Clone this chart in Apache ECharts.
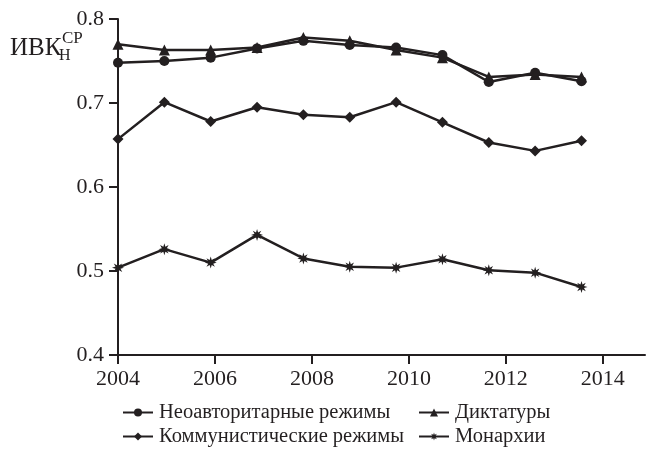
<!DOCTYPE html>
<html>
<head>
<meta charset="utf-8">
<script src="https://cdn.jsdelivr.net/npm/echarts@6/dist/echarts.min.js"></script>
<style>
html,body{margin:0;padding:0;background:#fff;}
#chart{width:646px;height:449px;}
</style>
</head>
<body>
<div id="chart"></div>
<script>
// ---- data ----
var years = [2004, 2005, 2006, 2007, 2008, 2009, 2010, 2011, 2012, 2013, 2014];
var neoauthoritarian = [0.748, 0.750, 0.754, 0.765, 0.774, 0.769, 0.766, 0.757, 0.725, 0.736, 0.726];
var dictatorships    = [0.770, 0.763, 0.763, 0.766, 0.778, 0.774, 0.763, 0.754, 0.731, 0.734, 0.731];
var communist        = [0.657, 0.701, 0.678, 0.695, 0.686, 0.683, 0.701, 0.677, 0.653, 0.643, 0.655];
var monarchies       = [0.504, 0.526, 0.510, 0.543, 0.515, 0.505, 0.504, 0.514, 0.501, 0.498, 0.481];
var xTickLabels = [2004, 2006, 2008, 2010, 2012, 2014];
var yTickLabels = [0.4, 0.5, 0.6, 0.7, 0.8];
var seriesNames = ['Неоавторитарные режимы', 'Диктатуры', 'Коммунистические режимы', 'Монархии'];

// ---- style ----
var INK = '#231f20';
var FONT = '"Liberation Serif", "Times New Roman", serif';

function starPath() {
  var pts = [];
  for (var i = 0; i < 16; i++) {
    var a = Math.PI * i / 8;
    var r = (i % 2 === 0) ? 10 : 4.5;
    pts.push((r * Math.sin(a)).toFixed(2) + ',' + (-r * Math.cos(a)).toFixed(2));
  }
  return 'path://M' + pts.join('L') + 'Z';
}
var STAR = starPath();

function pairs(vals) { return years.map(function (y, i) { return [y, vals[i]]; }); }

function lineSeries(name, vals, symbol, size) {
  return {
    name: name, type: 'line', xAxisIndex: 1, yAxisIndex: 0,
    data: pairs(vals),
    symbol: symbol, symbolSize: size, showSymbol: true,
    lineStyle: { color: INK, width: 2.5 },
    itemStyle: { color: INK, borderWidth: 0 },
    emphasis: { disabled: true },
    animation: false
  };
}

function legendAt(name, left, top) {
  return {
    data: [name], left: left, top: top, orient: 'horizontal',
    itemWidth: 30, itemHeight: 10, itemGap: 0, padding: 0,
    textStyle: { fontFamily: FONT, fontSize: 20.5, color: INK, padding: [0, 0, 0, 1] },
    selectedMode: false
  };
}

var chart = echarts.init(document.getElementById('chart'), null, { renderer: 'canvas' });
chart.setOption({
  backgroundColor: '#fff',
  animation: false,
  grid: { left: 118, top: 19, right: 1, bottom: 94, containLabel: false },
  xAxis: [
    {
      type: 'value', min: 2004, max: 2014.87, interval: 2,
      axisLine: { show: true, onZero: false, lineStyle: { color: INK, width: 2 } },
      axisTick: { show: true, inside: false, length: 9, lineStyle: { color: INK, width: 2 }, customValues: xTickLabels },
      axisLabel: { fontFamily: FONT, fontSize: 22, color: INK, margin: 13, customValues: xTickLabels,
        formatter: function (v) { return String(v); } },
      splitLine: { show: false }
    },
    {
      type: 'value', min: 2004, max: 2015.37, show: false, position: 'bottom'
    }
  ],
  yAxis: {
    type: 'value', min: 0.4, max: 0.8, interval: 0.1,
    axisLine: { show: true, lineStyle: { color: INK, width: 2 } },
    axisTick: { show: true, inside: false, length: 9, lineStyle: { color: INK, width: 2 } },
    axisLabel: { fontFamily: FONT, fontSize: 22, color: INK, margin: 14,
      formatter: function (v) { return v.toFixed(1); } },
    splitLine: { show: false }
  },
  legend: [
    legendAt(seriesNames[0], 122, 402),
    legendAt(seriesNames[1], 418, 402),
    legendAt(seriesNames[2], 122, 426),
    legendAt(seriesNames[3], 418, 426)
  ],
  graphic: [
    { type: 'text', left: 10, top: 36, style: { text: 'ИВК', font: '25px ' + FONT, fill: INK } },
    { type: 'text', left: 59, top: 48, style: { text: 'Н', font: '16px ' + FONT, fill: INK } },
    { type: 'text', left: 62, top: 30, style: { text: 'СР', font: '17px ' + FONT, fill: INK } }
  ],
  series: [
    lineSeries(seriesNames[0], neoauthoritarian, 'circle', 10),
    lineSeries(seriesNames[1], dictatorships, 'triangle', 11),
    lineSeries(seriesNames[2], communist, 'diamond', 11),
    lineSeries(seriesNames[3], monarchies, STAR, 12)
  ]
});
</script>
</body>
</html>
